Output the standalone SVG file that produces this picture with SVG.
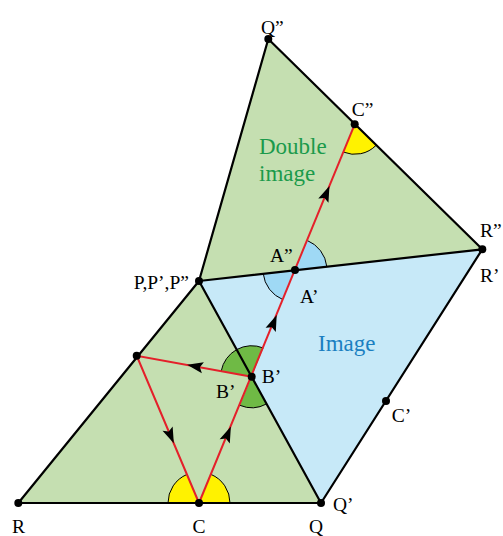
<svg xmlns="http://www.w3.org/2000/svg" width="503" height="536" viewBox="0 0 503 536">
  <style>
    .green { fill: #c5dfb1; }
    .blue { fill: #c7e9f8; }
    .edge { fill: none; stroke: #000; stroke-width: 2.2; stroke-linejoin: round; }
    .ray { fill: none; stroke: #e4202a; stroke-width: 2; }
    .arc { fill: none; stroke: #000; stroke-width: 1; }
    .sy { fill: #fff200; }
    .sb { fill: #9fd9f5; }
    .sg { fill: #6fba45; }
    .dot { fill: #000; }
    .lbl { font-family: "Liberation Serif", "DejaVu Serif", serif; font-size: 19.5px; fill: #000; }
    .big { font-family: "Liberation Serif", "DejaVu Serif", serif; font-size: 23px; }
  </style>
  <defs>
    <path id="ah" d="M8,0 L-8,-5.5 L-5,0 L-8,5.5 Z" fill="#000"/>
  </defs>

  <g id="triangles">
    <polygon id="original" class="green" points="18.3,503 321,503 199,281"/>
    <polygon id="image" class="blue" points="199,281 321,503 482.3,249.3"/>
    <polygon id="double-image" class="green" points="199,281 482.3,249.3 268.3,39"/>
  </g>

  <g id="angles">
    <path class="sy" d="M199,503 L168,503 A31,31 0 0,1 186.94,474.44 Z"/>
    <path class="arc" d="M168,503 A31,31 0 0,1 186.94,474.44"/>
    <path class="sy" d="M199,503 L210.94,474.39 A31,31 0 0,1 230,503 Z"/>
    <path class="arc" d="M210.94,474.39 A31,31 0 0,1 230,503"/>
    <path class="sy" d="M354.7,124.3 L376.13,145.3 A30,30 0 0,1 343.3,152.05 Z"/>
    <path class="arc" d="M376.13,145.3 A30,30 0 0,1 343.3,152.05"/>
    <path class="sb" d="M295,270 L307.1,240.4 A32,32 0 0,1 326.8,266.5 Z"/>
    <path class="arc" d="M307.1,240.4 A32,32 0 0,1 326.8,266.5"/>
    <path class="sb" d="M295,270 L282.9,299.6 A32,32 0 0,1 263.2,273.5 Z"/>
    <path class="arc" d="M282.9,299.6 A32,32 0 0,1 263.2,273.5"/>
    <path class="sg" d="M251.7,376.7 L221.2,371.1 A31,31 0 0,1 263.4,348.0 Z"/>
    <path class="arc" d="M221.2,371.1 A31,31 0 0,1 263.4,348.0"/>
    <path class="sg" d="M251.7,376.7 L266.6,403.9 A31,31 0 0,1 239.8,405.3 Z"/>
    <path class="arc" d="M266.6,403.9 A31,31 0 0,1 239.8,405.3"/>
  </g>

  <g id="edges">
    <polygon class="edge" points="18.3,503 321,503 199,281"/>
    <polyline class="edge" points="321,503 482.3,249.3 199,281"/>
    <polyline class="edge" points="199,281 268.3,39 482.3,249.3"/>
  </g>

  <g id="connectors">
    <polyline class="ray" points="199,503 136.7,355.7 251.7,376.7"/>
    <line class="ray" x1="199" y1="503" x2="354.7" y2="124.3"/>
    <use href="#ah" transform="translate(170.7,436) rotate(67.05)"/>
    <use href="#ah" transform="translate(195,366.3) rotate(190.4)"/>
    <use href="#ah" transform="translate(227.8,434) rotate(-67.36)"/>
    <use href="#ah" transform="translate(273.7,322.5) rotate(-67.9)"/>
    <use href="#ah" transform="translate(326.4,193.3) rotate(-67.7)"/>
  </g>

  <g id="points">
    <circle id="R" class="dot" cx="18.3" cy="503" r="4"/>
    <circle id="C" class="dot" cx="199" cy="503" r="4"/>
    <circle id="Q" class="dot" cx="321" cy="503" r="4"/>
    <circle id="P" class="dot" cx="199" cy="281" r="4"/>
    <circle id="D" class="dot" cx="136.7" cy="355.7" r="4"/>
    <circle id="B1" class="dot" cx="251.7" cy="376.7" r="4"/>
    <circle id="A2" class="dot" cx="295" cy="270" r="4"/>
    <circle id="C2" class="dot" cx="354.7" cy="124.3" r="4"/>
    <circle id="Q2" class="dot" cx="268.3" cy="39" r="4"/>
    <circle id="R2" class="dot" cx="482.3" cy="249.3" r="4"/>
    <circle id="C1" class="dot" cx="386" cy="401" r="4"/>
  </g>

  <g id="labels">
    <text class="lbl" x="261" y="34">Q”</text>
    <text class="lbl" x="351.7" y="115.7">C”</text>
    <text class="lbl" x="480" y="237">R”</text>
    <text class="lbl" x="480" y="282">R’</text>
    <text class="lbl" x="270" y="262">A”</text>
    <text class="lbl" x="300" y="303">A’</text>
    <text class="lbl" x="189" y="289" text-anchor="end">P,P’,P”</text>
    <text class="lbl" x="261.7" y="383">B’</text>
    <text class="lbl" x="216" y="398">B’</text>
    <text class="lbl" x="391.7" y="421.5">C’</text>
    <text class="lbl" x="333" y="511">Q’</text>
    <text class="lbl" x="18.5" y="533" text-anchor="middle">R</text>
    <text class="lbl" x="199" y="533" text-anchor="middle">C</text>
    <text class="lbl" x="316" y="533" text-anchor="middle">Q</text>
    <text class="big" x="259" y="154" fill="#1b9a4b">Double</text>
    <text class="big" x="259" y="181" fill="#1b9a4b">image</text>
    <text class="big" x="318" y="351" fill="#1a7fc1">Image</text>
  </g>
</svg>
